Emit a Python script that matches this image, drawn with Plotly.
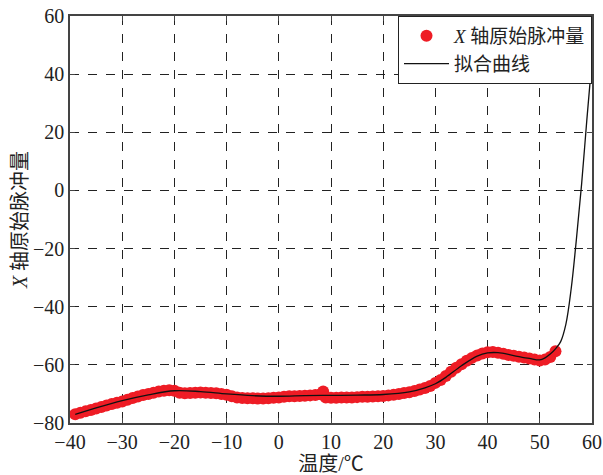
import plotly.graph_objects as go

# Raw pulse data (temperature °C, X-axis raw pulse count)
temp_raw = [-39, -38, -37, -36, -35, -34, -33, -32, -31, -30, -29, -28, -27, -26, -25,
            -24, -23, -22, -21, -20, -19, -18, -17, -16, -15, -14, -13, -12, -11, -10,
            -9, -8, -7, -6, -5, -4, -3, -2, -1, 0, 1, 2, 3, 4, 5, 6, 7, 8, 8.5, 9,
            10, 11, 12, 13, 14, 15, 16, 17, 18, 19, 20, 21, 22, 23, 24, 25, 26, 27,
            28, 29, 30, 31, 32, 33, 34, 35, 36, 37, 38, 39, 40, 41, 42, 43, 44, 45,
            46, 47, 48, 49, 50, 51, 52, 53]
pulse_raw = [-77.0, -76.5, -76.0, -75.5, -75.0, -74.5, -74.0, -73.5, -73.0, -72.6, -72.0,
             -71.4, -70.9, -70.4, -70.0, -69.6, -69.2, -68.9, -68.7, -68.9, -69.6, -69.8,
             -69.7, -69.6, -69.5, -69.6, -69.7, -69.8, -70.0, -70.3, -70.8, -71.2, -71.4,
             -71.5, -71.5, -71.6, -71.6, -71.5, -71.3, -71.2, -71.0, -70.8, -70.8, -70.7,
             -70.6, -70.5, -70.4, -70.1, -69.2, -71.2, -71.3, -71.3, -71.2, -71.2, -71.2,
             -71.1, -71.0, -71.0, -70.9, -70.8, -70.7, -70.5, -70.3, -70.0, -69.7, -69.4,
             -69.0, -68.5, -68.0, -67.3, -66.2, -65.2, -63.8, -62.4, -61.0, -59.8, -58.6,
             -57.6, -56.8, -56.1, -55.7, -55.6, -55.8, -56.2, -56.6, -56.9, -57.2, -57.5,
             -57.8, -58.2, -58.5, -58.2, -57.3, -55.3]

# Fitted curve
temp_fit = [-39, -35, -30, -25, -20, -15, -10, -5, 0, 5, 10, 15, 20, 25, 28, 30, 32, 35,
            38, 40, 42, 45, 48, 50, 51, 52, 53, 54, 55, 56, 57, 58, 59, 60]
pulse_fit = [-77.0, -74.8, -72.3, -70.3, -68.9, -69.2, -70.0, -70.6, -70.8, -70.6, -70.5,
             -70.4, -70.2, -69.3, -67.9, -66.5, -64.3, -60.3, -57.0, -55.9, -55.8, -56.8,
             -57.8, -58.3, -57.6, -56.3, -54.5, -52.0, -46.0, -34.0, -17.0, 2.0, 24.0, 45.0]

x_ticks = [-40, -30, -20, -10, 0, 10, 20, 30, 40, 50, 60]
y_ticks = [-80, -60, -40, -20, 0, 20, 40, 60]

FONT = "Liberation Serif, Times New Roman, Noto Sans CJK SC, serif"
TXT = "#222222"

fig = go.Figure()
fig.add_trace(go.Scatter(
    x=temp_raw, y=pulse_raw, mode="markers",
    marker=dict(color="#ee1c25", size=12, line=dict(width=0)),
    name="<i>X</i> 轴原始脉冲量"))
fig.add_trace(go.Scatter(
    x=temp_fit, y=pulse_fit, mode="lines", line_shape="spline",
    line=dict(color="#111111", width=1.3),
    name="拟合曲线"))

axis_common = dict(
    showline=True, linecolor="#444444", linewidth=1.5, mirror="allticks",
    ticks="inside", ticklen=5, tickcolor="#444444",
    showgrid=True, gridcolor="#222222", griddash="dash", gridwidth=1,
    zeroline=False, automargin=False,
    tickfont=dict(family=FONT, size=20, color=TXT),
)

fig.update_xaxes(range=[-40, 60], tickvals=x_ticks,
                 title=dict(text="温度/℃", font=dict(family=FONT, size=20, color=TXT),
                            standoff=0),
                 **axis_common)
fig.update_yaxes(range=[-80, 60], tickvals=y_ticks,
                 title=dict(text="<i>X</i> 轴原始脉冲量",
                            font=dict(family=FONT, size=20, color=TXT), standoff=0),
                 **axis_common)

fig.update_layout(
    width=603, height=475,
    margin=dict(l=70, r=11, t=16, b=52, autoexpand=False),
    paper_bgcolor="white", plot_bgcolor="white",
    showlegend=True,
    legend=dict(x=1, y=1, xanchor="right", yanchor="top",
                bgcolor="white", bordercolor="#222222", borderwidth=1,
                font=dict(family=FONT, size=19, color=TXT),
                tracegroupgap=0, itemwidth=45),
)

fig.write_html("out.html",
               config={"displayModeBar": False},
               post_script="document.body.style.margin='0px';document.body.style.overflow='hidden';")
